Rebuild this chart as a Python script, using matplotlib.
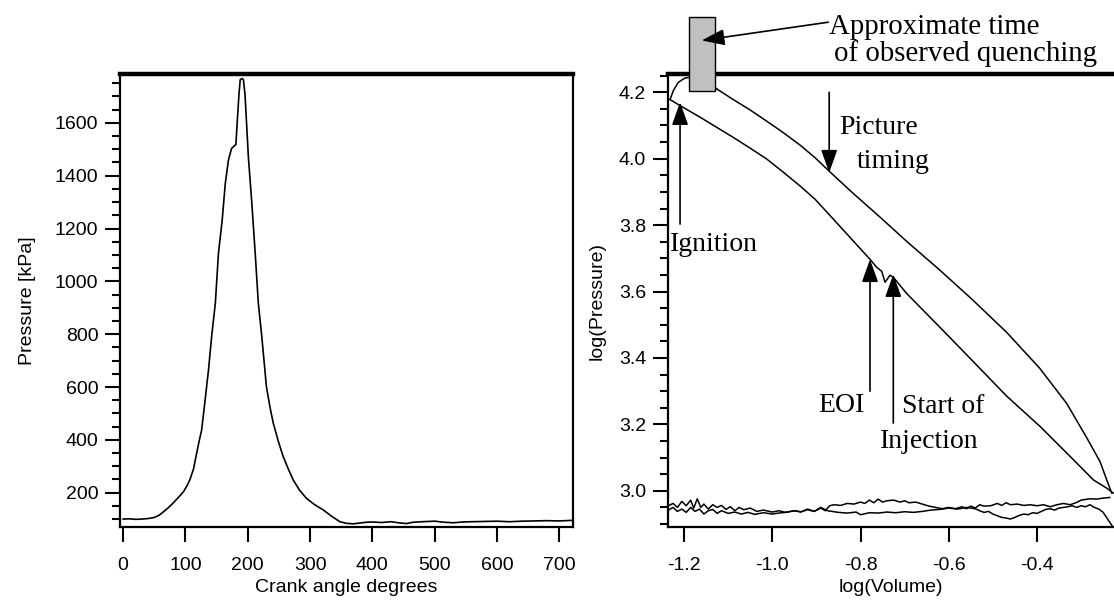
import numpy as np
import matplotlib.pyplot as plt
from matplotlib.patches import Rectangle, ArrowStyle

plt.rcParams['font.family'] = 'Liberation Sans'
plt.rcParams['axes.unicode_minus'] = False

# left panel: pressure trace vs crank angle
crank = [0, 10, 20, 30, 40, 50, 58, 65, 72, 80, 88, 97, 102, 107, 113, 118, 122, 126,
         131, 137, 142, 148, 153, 159, 164, 169, 174, 178, 181, 183, 186, 188, 191,
         193, 195.5, 197, 201, 206.6, 212, 217, 222.6, 230, 236, 241, 249, 257, 265,
         273, 283, 294, 307, 321, 335, 348, 358, 369, 380, 390, 400, 415, 430, 445,
         455, 465, 480, 500, 515, 530, 545, 560, 580, 600, 620, 640, 660, 680, 700, 720]
pressure = [100, 101, 99, 100, 102, 106, 115, 128, 142, 160, 180, 204, 224, 248, 290, 349,
            395, 437, 538, 664, 790, 917, 1106, 1232, 1371, 1459, 1503, 1512, 1518,
            1598, 1711, 1764, 1768, 1764, 1711, 1648, 1471, 1295, 1106, 917, 790, 601,
            520, 463, 395, 336, 290, 248, 210, 179, 155, 135, 110, 90, 84, 82, 85, 88,
            89, 87, 90, 85, 83, 88, 90, 92, 88, 86, 89, 90, 91, 92, 90, 92, 93, 94, 93, 95]

# right panel: log P - log V loop
comp_x = [-0.2271, -0.2420, -0.2724, -0.3177, -0.3932, -0.4687, -0.5444, -0.6198,
          -0.6953, -0.7257, -0.7331, -0.7445, -0.7520, -0.7633, -0.7785, -0.8238,
          -0.8616, -0.9031, -0.9371, -0.9756, -1.0126, -1.0504, -1.0883, -1.1637,
          -1.2091, -1.2317]
comp_y = [2.993, 3.008, 3.033, 3.094, 3.194, 3.285, 3.389, 3.492, 3.594, 3.643,
          3.649, 3.628, 3.661, 3.673, 3.697, 3.763, 3.818, 3.878, 3.918, 3.960,
          3.999, 4.032, 4.064, 4.125, 4.160, 4.178]
comb_x = [-1.2317, -1.2242, -1.2129, -1.1977, -1.1864, -1.1637, -1.1400, -1.1259]
comb_y = [4.178, 4.205, 4.230, 4.243, 4.245, 4.246, 4.230, 4.210]
exp_x = [-1.1259, -1.0883, -1.0504, -1.0126, -0.9756, -0.9371, -0.9031, -0.8691,
         -0.8170, -0.7558, -0.6953, -0.6198, -0.5444, -0.4687, -0.3932, -0.3327,
         -0.2874, -0.2572, -0.2420, -0.2307]
exp_y = [4.210, 4.178, 4.147, 4.113, 4.079, 4.041, 4.003, 3.960, 3.896, 3.824,
         3.751, 3.664, 3.573, 3.477, 3.368, 3.263, 3.160, 3.088, 3.033, 2.993]

exh_x = [-1.235, -1.225, -1.215, -1.205, -1.195, -1.185, -1.178, -1.170, -1.162,
         -1.155, -1.145, -1.135, -1.125, -1.115, -1.105, -1.095, -1.085, -1.075,
         -1.065, -1.050, -1.035, -1.020, -1.000, -0.985, -0.970, -0.950, -0.935,
         -0.920, -0.905, -0.890, -0.880, -0.870, -0.860, -0.845, -0.830, -0.815,
         -0.800, -0.790, -0.780, -0.770, -0.760, -0.750, -0.740, -0.725, -0.710,
         -0.700, -0.690, -0.675, -0.660, -0.645, -0.630, -0.615, -0.600, -0.585,
         -0.570, -0.560, -0.550, -0.540, -0.530, -0.520, -0.505, -0.490, -0.480,
         -0.470, -0.460, -0.445, -0.430, -0.415, -0.400, -0.385, -0.370, -0.355,
         -0.340, -0.325, -0.310, -0.300, -0.290, -0.280, -0.265, -0.250, -0.235]
exh_y = [2.955, 2.962, 2.950, 2.968, 2.955, 2.972, 2.948, 2.976, 2.950, 2.960,
         2.945, 2.958, 2.950, 2.956, 2.944, 2.952, 2.940, 2.950, 2.943, 2.948,
         2.938, 2.942, 2.936, 2.940, 2.935, 2.940, 2.937, 2.943, 2.938, 2.948,
         2.940, 2.955, 2.958, 2.956, 2.962, 2.960, 2.966, 2.962, 2.972, 2.964,
         2.975, 2.966, 2.970, 2.972, 2.966, 2.970, 2.964, 2.966, 2.960, 2.954,
         2.950, 2.946, 2.950, 2.946, 2.952, 2.946, 2.954, 2.948, 2.958, 2.954,
         2.955, 2.962, 2.956, 2.964, 2.958, 2.960, 2.956, 2.958, 2.955, 2.958,
         2.952, 2.958, 2.962, 2.958, 2.965, 2.972, 2.974, 2.976, 2.975, 2.978, 2.980]

int_x = [-1.235, -1.225, -1.215, -1.205, -1.195, -1.185, -1.175, -1.165, -1.155,
         -1.145, -1.135, -1.125, -1.115, -1.100, -1.085, -1.070, -1.055, -1.040,
         -1.020, -1.000, -0.985, -0.970, -0.950, -0.935, -0.920, -0.905, -0.890,
         -0.875, -0.850, -0.830, -0.810, -0.800, -0.780, -0.760, -0.740, -0.720,
         -0.700, -0.680, -0.660, -0.640, -0.620, -0.600, -0.580, -0.560, -0.540,
         -0.530, -0.520, -0.510, -0.500, -0.490, -0.480, -0.470, -0.460, -0.450,
         -0.440, -0.430, -0.420, -0.410, -0.400, -0.390, -0.380, -0.370, -0.360,
         -0.350, -0.340, -0.330, -0.320, -0.310, -0.300, -0.290, -0.280, -0.270,
         -0.260, -0.250, -0.240, -0.230]
int_y = [2.942, 2.950, 2.938, 2.945, 2.935, 2.950, 2.938, 2.945, 2.930, 2.940,
         2.944, 2.932, 2.940, 2.932, 2.936, 2.930, 2.935, 2.929, 2.934, 2.930,
         2.933, 2.935, 2.940, 2.936, 2.945, 2.938, 2.950, 2.940, 2.935, 2.933,
         2.936, 2.928, 2.934, 2.933, 2.936, 2.934, 2.937, 2.935, 2.938, 2.942,
         2.944, 2.948, 2.945, 2.950, 2.946, 2.940, 2.935, 2.938, 2.930, 2.925,
         2.920, 2.918, 2.915, 2.920, 2.926, 2.930, 2.928, 2.934, 2.932, 2.938,
         2.944, 2.946, 2.942, 2.948, 2.950, 2.952, 2.955, 2.950, 2.955, 2.952,
         2.958, 2.950, 2.945, 2.935, 2.915, 2.895]

fig = plt.figure(figsize=(11.14, 6), dpi=100)
ax1 = fig.add_axes([120/1114, 1 - 527/600, 453/1114, 453/600])
ax2 = fig.add_axes([667.7/1114, 1 - 527/600, 1 - 667.7/1114, 453/600])

for ax in (ax1, ax2):
    for s in ('left', 'bottom', 'right'):
        ax.spines[s].set_linewidth(1.6)
    ax.spines['top'].set_linewidth(3.2)
    ax.tick_params(which='major', direction='out', length=10.5, width=1.5, labelsize=14)
    ax.tick_params(which='minor', direction='out', length=5.5, width=1.5)
    ax.tick_params(axis='x', pad=11)
    ax.tick_params(axis='y', pad=5)

ax1.plot(crank, pressure, color='k', lw=1.2)
ax1.set_xlim(-5, 722)
ax1.set_ylim(70, 1785)
ax1.set_xticks(np.arange(0, 701, 100))
ax1.set_yticks(np.arange(200, 1601, 200))
ax1.set_yticks(np.arange(100, 1751, 50), minor=True)
ax1.set_xlabel('Crank angle degrees', fontsize=14)
ax1.set_ylabel('Pressure [kPa]', fontsize=14)
ax1.xaxis.set_label_coords(0.5, -0.114)
ax1.yaxis.set_label_coords(-0.1865, 0.5)

ax2.spines['right'].set_visible(False)
ax2.plot(comp_x, comp_y, color='k', lw=1.1)
ax2.plot(comb_x, comb_y, color='k', lw=1.1)
ax2.plot(exp_x, exp_y, color='k', lw=1.1)
ax2.plot(exh_x, exh_y, color='k', lw=1.1)
ax2.plot(int_x, int_y, color='k', lw=1.1)
ax2.set_xlim(-1.237, -0.2255)
ax2.set_ylim(2.891, 4.255)
ax2.set_xticks([-1.2, -1.0, -0.8, -0.6, -0.4])
ax2.set_xticklabels(['-1.2', '-1.0', '-0.8', '-0.6', '-0.4'])
ax2.set_yticks(np.arange(3.0, 4.21, 0.2))
ax2.set_yticklabels(['3.0', '3.2', '3.4', '3.6', '3.8', '4.0', '4.2'])
ax2.set_yticks(np.arange(2.90, 4.26, 0.05), minor=True)
ax2.set_xlabel('log(Volume)', fontsize=14)
ax2.set_ylabel('log(Pressure)', fontsize=14)
ax2.xaxis.set_label_coords(0.5, -0.114)
ax2.yaxis.set_label_coords(-0.139, 0.5)

ax2.add_patch(Rectangle((-1.1887, 4.204), 0.059, 0.223, facecolor='#c0c0c0',
                        edgecolor='k', lw=1, clip_on=False, zorder=5))

head = ArrowStyle('-|>', head_length=0.7, head_width=0.25)
aprops = dict(arrowstyle=head, color='k', lw=1.2, shrinkA=0, shrinkB=0, mutation_scale=20)

def arrow(tail, tip):
    ax2.annotate('', xy=tip, xytext=tail, arrowprops=aprops, annotation_clip=False, zorder=6)

arrow((-0.873, 4.411), (-1.160, 4.356))
arrow((-1.209, 3.803), (-1.209, 4.170))
arrow((-0.871, 4.200), (-0.871, 3.958))
arrow((-0.7785, 3.300), (-0.7785, 3.697))
arrow((-0.7257, 3.204), (-0.7257, 3.652))

serif = dict(fontfamily='Liberation Serif', fontsize=20, va='baseline', clip_on=False)
quench = dict(serif, fontsize=20.8)
ax2.text(-0.871, 4.376, 'Approximate time', **quench)
ax2.text(-0.860, 4.295, 'of observed quenching', **quench)
ax2.text(-0.848, 4.074, 'Picture', **serif)
ax2.text(-0.808, 3.972, 'timing', **serif)
ax2.text(-1.232, 3.722, 'Ignition', **serif)
ax2.text(-0.790, 3.236, 'EOI', ha='right', **serif)
ax2.text(-0.707, 3.234, 'Start of', **serif)
ax2.text(-0.756, 3.129, 'Injection', **serif)

fig.savefig('out.png', dpi=100)
